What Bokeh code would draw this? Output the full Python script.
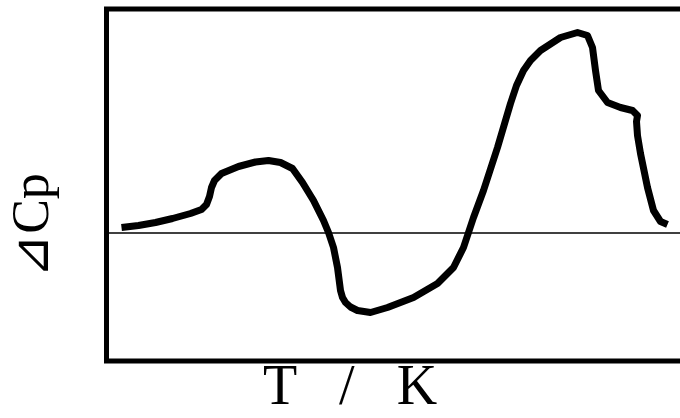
import math
from bokeh.plotting import figure
from bokeh.models import Range1d, Label
from bokeh.embed import file_html
from bokeh.resources import INLINE

# Temperature (arbitrary units) and excess heat capacity (arbitrary units)
T = [1.5, 3.2, 4.9, 6.6, 8.4, 9.5, 10.0, 10.3, 10.5, 10.8, 11.5, 13.2, 14.9, 16.2,
     17.4, 18.6, 19.6, 20.7, 21.7, 22.2, 22.7, 23.1, 23.4, 23.6, 23.9, 24.4, 25.1,
     26.4, 28.1, 30.7, 33.1, 34.7, 35.7, 36.2, 36.7, 37.7, 39.1, 40.4, 41.0, 41.7,
     42.4, 43.4, 45.4, 47.1, 48.1, 48.6, 48.9, 49.2, 50.1, 51.4, 52.6, 53.1, 53.0,
     53.1, 53.4, 54.1, 54.7, 55.4, 56.1]
dCp = [0.55, 0.75, 1.05, 1.45, 1.95, 2.35, 2.85, 3.65, 4.55, 5.25, 5.95, 6.65, 7.1,
       7.25, 7.05, 6.45, 5.05, 3.25, 1.25, 0.05, -1.45, -3.45, -5.75, -6.45, -6.95,
       -7.4, -7.75, -7.95, -7.45, -6.45, -5.05, -3.45, -1.45, 0.05, 1.55, 4.25, 8.55,
       12.95, 14.75, 16.25, 17.25, 18.25, 19.55, 20.05, 19.75, 18.55, 16.25, 14.25,
       13.05, 12.55, 12.25, 11.75, 11.15, 9.75, 7.95, 4.55, 2.25, 1.15, 0.85]

x_label = "T\u00a0\u00a0\u00a0/\u00a0\u00a0\u00a0K"
y_label = "\u22bfCp"

# plot box limits (left edge at T=0, open on the right)
box_left = 0.0
box_top = 22.4
box_bottom = -12.8
box_far = 100.0

p = figure(width=680, height=418,
           x_range=Range1d(-10.6, 57.4), y_range=Range1d(-18.55, 23.25),
           output_backend="svg", toolbar_location=None,
           x_axis_location=None, y_axis_location=None,
           min_border=0)
p.outline_line_color = None
p.grid.visible = False
p.background_fill_color = "white"
p.border_fill_color = "white"

# frame: top, left and bottom edges
p.line([box_far, box_left, box_left, box_far], [box_top, box_top, box_bottom, box_bottom],
       line_color="black", line_width=5, line_join="miter")
# zero baseline
p.ray(x=[box_left], y=[0], length=0, angle=0, line_color="black", line_width=1.5)

p.line(T, dCp, line_color="black", line_width=7, line_join="round", line_cap="butt")

p.add_layout(Label(x=24.35, y=-15.18, text=x_label, text_align="center",
                   text_baseline="alphabetic", text_font="Liberation Serif",
                   text_font_size="56px", text_color="black"))
p.add_layout(Label(x=-7.6, y=0.75, text=y_label, angle=math.pi / 2,
                   text_align="center", text_baseline="alphabetic",
                   text_font="Liberation Serif",
                   text_font_size="52px", text_color="black"))

open("out.html", "w").write(file_html(p, INLINE))
